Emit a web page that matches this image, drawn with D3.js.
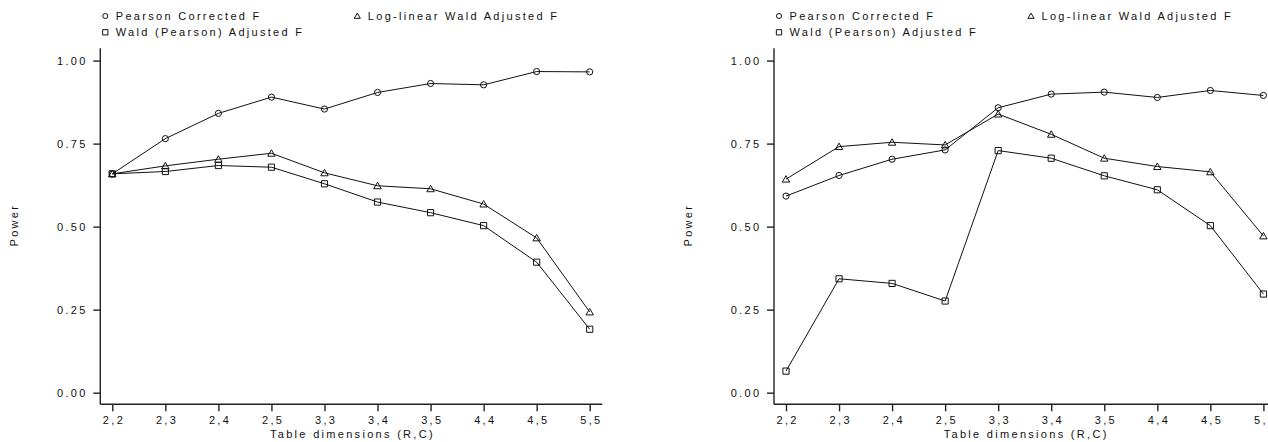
<!DOCTYPE html>
<html><head><meta charset="utf-8">
<script src="https://cdn.jsdelivr.net/npm/d3@7"></script>
<style>
html,body{margin:0;padding:0;background:#fff;}
svg text{font-family:"Liberation Sans",Arial,sans-serif;font-size:11px;letter-spacing:2.3px;fill:#111;}
</style></head>
<body><svg id="c" width="1268" height="442"></svg>
<script>
const categories = ["2,2","2,3","2,4","2,5","3,3","3,4","3,5","4,4","4,5","5,5"];
const yTicks = [0, 0.25, 0.5, 0.75, 1.0];
const seriesNames = ["Pearson Corrected F","Log-linear Wald Adjusted F","Wald (Pearson) Adjusted F"];
// Left panel
const leftPearson = [0.659,0.765,0.841,0.890,0.854,0.904,0.931,0.927,0.967,0.966];
const leftLogLinear = [0.659,0.683,0.703,0.721,0.662,0.623,0.614,0.568,0.466,0.243];
const leftWald = [0.659,0.666,0.684,0.679,0.629,0.574,0.542,0.503,0.393,0.191];
// Right panel
const rightPearson = [0.592,0.654,0.703,0.731,0.858,0.899,0.905,0.889,0.910,0.895];
const rightLogLinear = [0.643,0.741,0.754,0.746,0.839,0.778,0.706,0.681,0.665,0.472];
const rightWald = [0.065,0.343,0.329,0.276,0.729,0.706,0.653,0.611,0.503,0.297];

const svg = d3.select("#c");
const LS = 2.3;

function drawPanel(ox, series) {
  const g = svg.append("g").attr("transform", `translate(${ox},0)`);
  const axL = 100.3, axR = 602.3, axT = 48.3, axB = 404.3;
  const x = d3.scalePoint().domain(categories).range([112.3, 589.7]);
  const y = d3.scaleLinear().domain([-0.035, 1.037]).range([axB, axT]);

  // axes lines
  g.append("line").attr("x1", axL).attr("x2", axL).attr("y1", axT).attr("y2", axB)
    .attr("stroke", "#222").attr("stroke-width", 1.4);
  g.append("line").attr("x1", axL).attr("x2", axR).attr("y1", axB).attr("y2", axB)
    .attr("stroke", "#222").attr("stroke-width", 1.4);

  // y ticks
  const yAxis = d3.axisLeft(y).tickValues(yTicks).tickFormat(d3.format(".2f")).tickSize(7).tickPadding(8);
  const ya = g.append("g").attr("transform", `translate(${axL},0)`).call(yAxis);
  ya.select(".domain").remove();
  ya.selectAll(".tick line").attr("stroke", "#222").attr("stroke-width", 1.4);
  ya.selectAll(".tick text").attr("font-size", null).attr("font-family", null)
    .attr("dx", LS).attr("fill", "#111");

  // x ticks
  const xAxis = d3.axisBottom(x).tickSize(7).tickPadding(5);
  const xa = g.append("g").attr("transform", `translate(0,${axB})`).call(xAxis);
  xa.select(".domain").remove();
  xa.selectAll(".tick line").attr("stroke", "#222").attr("stroke-width", 1.4);
  xa.selectAll(".tick text").attr("font-size", null).attr("font-family", null)
    .attr("dx", LS / 2).attr("fill", "#111");

  // axis titles
  g.append("text").attr("transform", `translate(18,${(axT + axB) / 2}) rotate(-90)`)
    .attr("text-anchor", "middle").attr("dx", LS / 2).text("Power");
  g.append("text").attr("x", (axL + axR) / 2).attr("y", 437.5)
    .attr("text-anchor", "middle").attr("dx", LS / 2).text("Table dimensions (R,C)");

  const line = d3.line().x((d, i) => x(categories[i])).y(d => y(d));
  const symbols = [d3.symbolCircle, d3.symbolTriangle, d3.symbolSquare];
  const sizes = [30, 24, 38];

  series.forEach((vals, si) => {
    g.append("path").attr("d", line(vals)).attr("fill", "none")
      .attr("stroke", "#111").attr("stroke-width", 1);
  });
  series.forEach((vals, si) => {
    g.selectAll(null).data(vals).enter().append("path")
      .attr("transform", (d, i) => `translate(${x(categories[i])},${y(d) + (si === 1 ? 0.8 : 0)})`)
      .attr("d", d3.symbol().type(symbols[si]).size(sizes[si]))
      .attr("fill", "none").attr("stroke", "#111").attr("stroke-width", 1);
  });

  // legend
  const leg = [
    { name: seriesNames[0], sym: 0, x: 105.3, y: 16 },
    { name: seriesNames[1], sym: 1, x: 357.3, y: 16 },
    { name: seriesNames[2], sym: 2, x: 105.3, y: 32.3 }
  ];
  const legSizes = [20, 16, 28];
  leg.forEach(l => {
    g.append("path").attr("transform", `translate(${l.x},${l.y + (l.sym === 1 ? 0.6 : 0)})`)
      .attr("d", d3.symbol().type(symbols[l.sym]).size(legSizes[l.sym]))
      .attr("fill", "none").attr("stroke", "#111").attr("stroke-width", 1);
    g.append("text").attr("x", l.x + 10.5).attr("y", l.y + 4).text(l.name);
  });
}

drawPanel(0, [leftPearson, leftLogLinear, leftWald]);
drawPanel(673.7, [rightPearson, rightLogLinear, rightWald]);
</script></body></html>
